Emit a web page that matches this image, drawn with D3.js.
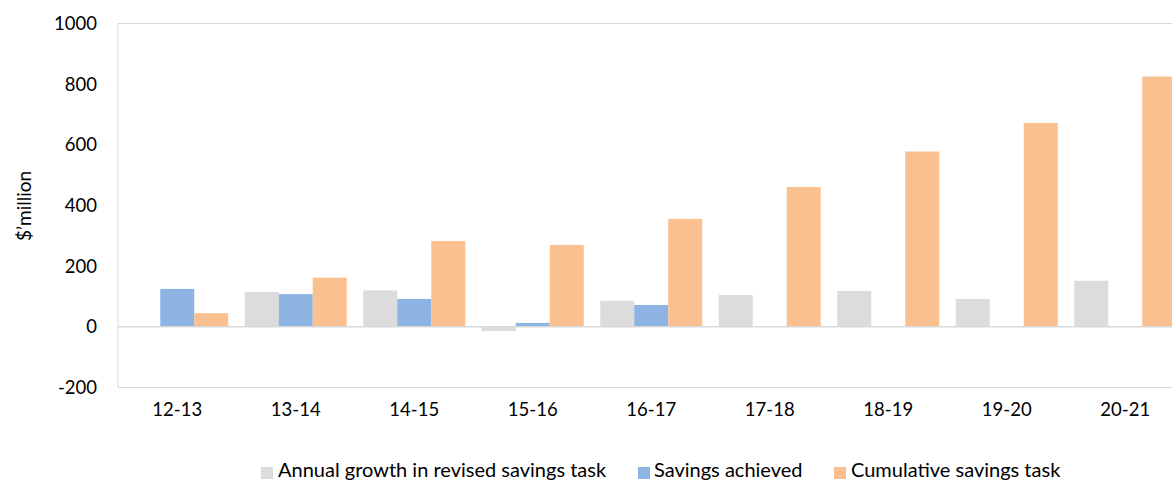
<!DOCTYPE html>
<html>
<head>
<meta charset="utf-8">
<script src="https://cdn.jsdelivr.net/npm/d3@7"></script>
<style>
  html, body { margin: 0; padding: 0; background: #fff; overflow: hidden; }
  svg { display: block; }
  text { font-family: Lato, "Open Sans", sans-serif; fill: #000; }
</style>
</head>
<body>
<svg id="chart" width="1172" height="481"></svg>
<script>
// Financial years
const categories = ["12-13", "13-14", "14-15", "15-16", "16-17", "17-18", "18-19", "19-20", "20-21"];

// $'million per year
const annualGrowth = [null, 115, 120, -14, 86, 105, 118, 92, 152];
const savingsAchieved = [125, 108, 92, 13, 72, null, null, null, null];
const cumulativeTask = [45, 162, 283, 270, 356, 461, 578, 672, 825];

const yTicks = [-200, 0, 200, 400, 600, 800, 1000];
const yTickLabels = ["-200", "0", "200", "400", "600", "800", "1000"];

const seriesNames = ["Annual growth in revised savings task", "Savings achieved", "Cumulative savings task"];
const seriesColors = ["#dcdcdc", "#8eb4e3", "#fac090"];
const seriesValues = [annualGrowth, savingsAchieved, cumulativeTask];

const svg = d3.select("#chart");
const plot = { left: 118, top: 23.5, bottom: 387.5, right: 1184.5 };

const x = d3.scaleBand().domain(categories).range([plot.left, plot.right]);
const barW = 34;
const sub = d3.scaleBand().domain(d3.range(3)).range([0, barW * 3]);
const y = d3.scaleLinear().domain([-200, 1000]).range([plot.bottom, plot.top]);

// Plot area border
svg.append("path")
  .attr("d", `M${plot.right},${plot.top}H${plot.left}V${plot.bottom}H${plot.right}`)
  .attr("fill", "none").attr("stroke", "#d9d9d9").attr("stroke-width", 1);

// Bars
const groupOffset = (x.bandwidth() - barW * 3) / 2;
seriesValues.forEach((vals, si) => {
  const data = categories.map((c, i) => ({ c, v: vals[i] })).filter(d => d.v !== null);
  svg.append("g").selectAll("rect").data(data).join("rect")
    .attr("x", d => x(d.c) + groupOffset + sub(si))
    .attr("width", sub.bandwidth())
    .attr("y", d => y(Math.max(0, d.v)))
    .attr("height", d => Math.abs(y(d.v) - y(0)))
    .attr("fill", seriesColors[si]);
});

// Zero line
svg.append("line")
  .attr("x1", plot.left).attr("x2", plot.right)
  .attr("y1", y(0)).attr("y2", y(0))
  .attr("stroke", "#d9d9d9").attr("stroke-width", 1.5);

// Y axis labels
const yAxis = d3.axisLeft(y).tickValues(yTicks)
  .tickFormat((d, i) => yTickLabels[i]).tickSize(0).tickPadding(0);
const yg = svg.append("g").attr("transform", `translate(97,0)`).call(yAxis);
yg.select(".domain").remove();
yg.selectAll("text").attr("font-size", 18.5).attr("font-family", "Lato, sans-serif").attr("fill", "#000");

// X axis labels
const xAxis = d3.axisBottom(x).tickSize(0).tickPadding(0);
const xg = svg.append("g").attr("transform", `translate(0,403)`).call(xAxis);
xg.select(".domain").remove();
xg.selectAll("text").attr("font-size", 18.5).attr("font-family", "Lato, sans-serif").attr("fill", "#000");

// Y axis title
svg.append("text")
  .attr("transform", "translate(31,206) rotate(-90)")
  .attr("text-anchor", "middle")
  .attr("font-size", 19)
  .text("$\u2019million");

// Legend
const legendSwatchX = [261, 638, 834];
const legendTextX = [278, 654, 851];
const legend = svg.append("g");
seriesNames.forEach((name, i) => {
  legend.append("rect")
    .attr("x", legendSwatchX[i]).attr("y", 467).attr("width", 12).attr("height", 12)
    .attr("fill", seriesColors[i]);
  legend.append("text")
    .attr("x", legendTextX[i]).attr("y", 477)
    .attr("font-size", 20)
    .text(name);
});
</script>
</body>
</html>
